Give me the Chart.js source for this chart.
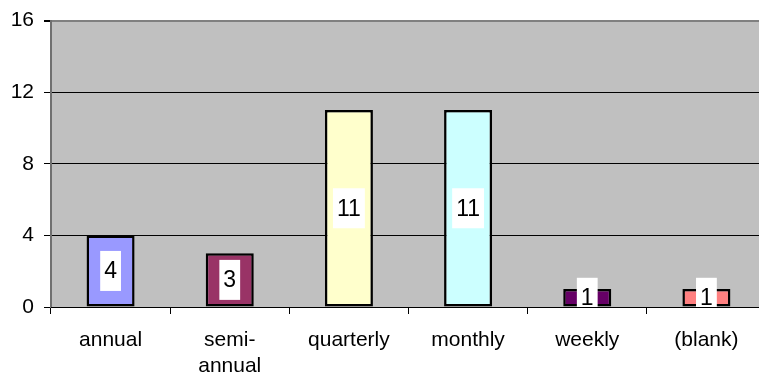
<!DOCTYPE html>
<html>
<head>
<meta charset="utf-8">
<script src="https://cdn.jsdelivr.net/npm/chart.js@4/dist/chart.umd.min.js"></script>
<style>
    body { margin: 0; overflow: hidden; background: #fff; }
    #wrap { width: 766px; height: 381px; position: relative; }
</style>
</head>
<body>
<div id="wrap"><canvas id="chart"></canvas></div>
<script>
const categories = ['annual', ['semi-', 'annual'], 'quarterly', 'monthly', 'weekly', '(blank)'];
const counts = [4, 3, 11, 11, 1, 1];
const yTicks = [0, 4, 8, 12, 16];

const barColors = ['#9999FF', '#993366', '#FFFFCC', '#CCFFFF', '#660066', '#FF8080'];
const fontFamily = "'Liberation Sans', Arial, sans-serif";

// fond gris de la zone de tracé
const plotBackground = {
    id: 'plotBackground',
    beforeDraw(chart) {
        const { ctx, chartArea: a } = chart;
        ctx.save();
        ctx.fillStyle = '#C0C0C0';
        ctx.fillRect(a.left, a.top, a.right - a.left, a.bottom - a.top);
        ctx.restore();
    }
};

// étiquettes de valeur dans un cadre blanc au milieu de chaque barre
const valueLabels = {
    id: 'valueLabels',
    afterDatasetsDraw(chart) {
        const { ctx, chartArea: a } = chart;
        const meta = chart.getDatasetMeta(0);
        ctx.save();
        ctx.beginPath();
        ctx.rect(a.left, a.top, a.right - a.left, a.bottom - a.top);
        ctx.clip();
        ctx.font = `23px ${fontFamily}`;
        ctx.textAlign = 'center';
        ctx.textBaseline = 'middle';
        meta.data.forEach((bar, i) => {
            const text = String(chart.data.datasets[0].data[i]);
            const cy = (bar.y + bar.base) / 2;
            const w = ctx.measureText(text).width + 8;
            const h = 40;
            ctx.fillStyle = '#fff';
            ctx.fillRect(bar.x - w / 2, cy - h / 2, w, h);
            ctx.fillStyle = '#000';
            ctx.fillText(text, bar.x, cy + 1);
        });
        ctx.restore();
    }
};

new Chart(document.getElementById('chart'), {
    type: 'bar',
    data: {
        labels: categories,
        datasets: [{
            data: counts,
            backgroundColor: barColors,
            borderColor: '#000',
            borderWidth: 2.5,
            borderSkipped: false,
            categoryPercentage: 1,
            barPercentage: 0.403
        }]
    },
    options: {
        responsive: true,
        maintainAspectRatio: false,
        animation: false,
        layout: { padding: { top: 2, left: 0, right: 0, bottom: 0 } },
        scales: {
            y: {
                min: 0,
                max: 16,
                afterBuildTicks: scale => { scale.ticks = yTicks.map(v => ({ value: v })); },
                afterFit: scale => { scale.width = 51; },
                border: { color: '#707070', width: 2 },
                grid: {
                    color: c => c.tick && c.tick.value === 16 ? '#808080' : '#000',
                    lineWidth: c => c.tick && c.tick.value === 16 ? 2 : 1,
                    tickColor: '#000',
                    tickLength: 7
                },
                ticks: { color: '#000', padding: 10, font: { family: fontFamily, size: 21, lineHeight: 1 } }
            },
            x: {
                afterFit: scale => { scale.height = 74; },
                border: { color: '#000', width: 1 },
                grid: { drawOnChartArea: false, offset: true, color: '#000', tickLength: 7 },
                ticks: {
                    color: '#000',
                    padding: 13,
                    maxRotation: 0,
                    autoSkip: false,
                    font: { family: fontFamily, size: 21, lineHeight: 1.25 }
                }
            }
        },
        plugins: {
            legend: { display: false },
            tooltip: { enabled: false }
        }
    },
    plugins: [plotBackground, valueLabels]
});
</script>
</body>
</html>
